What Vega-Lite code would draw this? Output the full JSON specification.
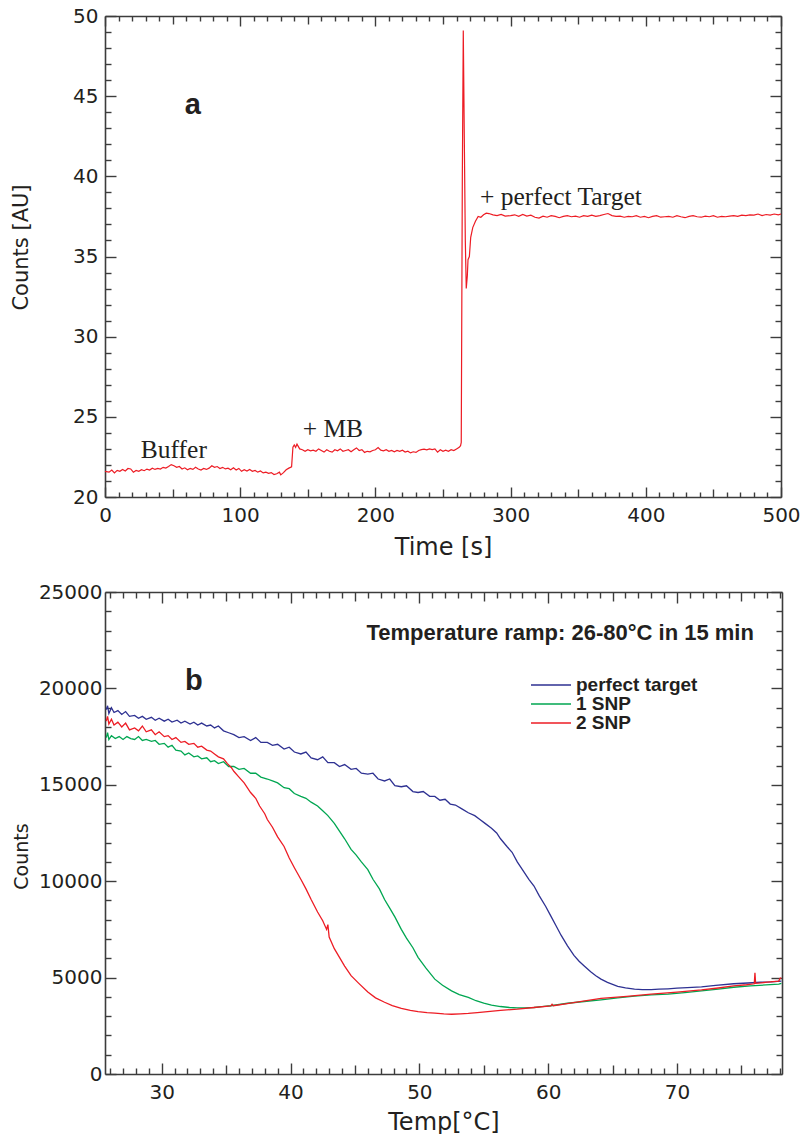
{
  "$schema": "https://vega.github.io/schema/vega-lite/v6.json",
  "background": "white",
  "padding": {"left": 10, "top": 6, "right": 0, "bottom": 0},
  "spacing": 23,
  "config": {
    "view": {"stroke": null},
    "axis": {
      "grid": false,
      "labelFont": "DejaVu Sans",
      "labelFontSize": 20,
      "labelColor": "#231f20",
      "titleFont": "DejaVu Sans",
      "titleFontWeight": "normal",
      "titleColor": "#231f20",
      "domainColor": "#3c3c3c",
      "domainWidth": 1.6,
      "tickColor": "#3c3c3c",
      "tickWidth": 1.4,
      "labelFlush": false,
      "labelOverlap": false,
      "labelBound": false
    }
  },
  "datasets": {
    "timeTrace": [
      {"time": 0, "counts": 21.6}, {"time": 3, "counts": 21.55}, {"time": 5, "counts": 21.68}, {"time": 7, "counts": 21.5}, {"time": 9, "counts": 21.66}, {"time": 11, "counts": 21.6}, {"time": 13, "counts": 21.72}, {"time": 15, "counts": 21.62}, {"time": 17, "counts": 21.78}, {"time": 19, "counts": 21.75}, {"time": 21, "counts": 21.55}, {"time": 23, "counts": 21.66}, {"time": 25, "counts": 21.6}, {"time": 27, "counts": 21.7}, {"time": 29, "counts": 21.64}, {"time": 31, "counts": 21.74}, {"time": 33, "counts": 21.68}, {"time": 35, "counts": 21.8}, {"time": 37, "counts": 21.72}, {"time": 39, "counts": 21.78}, {"time": 41, "counts": 21.74}, {"time": 43, "counts": 21.85}, {"time": 45, "counts": 21.8}, {"time": 47, "counts": 21.9}, {"time": 49, "counts": 22.02}, {"time": 51, "counts": 21.95}, {"time": 53, "counts": 21.85}, {"time": 55, "counts": 21.9}, {"time": 57, "counts": 21.75}, {"time": 59, "counts": 21.82}, {"time": 61, "counts": 21.7}, {"time": 63, "counts": 21.78}, {"time": 65, "counts": 21.72}, {"time": 67, "counts": 21.85}, {"time": 69, "counts": 21.75}, {"time": 71, "counts": 21.68}, {"time": 73, "counts": 21.78}, {"time": 75, "counts": 21.72}, {"time": 77, "counts": 21.8}, {"time": 79, "counts": 21.95}, {"time": 81, "counts": 21.85}, {"time": 83, "counts": 21.9}, {"time": 85, "counts": 21.78}, {"time": 87, "counts": 21.85}, {"time": 89, "counts": 21.75}, {"time": 91, "counts": 21.8}, {"time": 93, "counts": 21.7}, {"time": 95, "counts": 21.82}, {"time": 97, "counts": 21.68}, {"time": 99, "counts": 21.78}, {"time": 101, "counts": 21.6}, {"time": 103, "counts": 21.7}, {"time": 105, "counts": 21.62}, {"time": 107, "counts": 21.72}, {"time": 109, "counts": 21.6}, {"time": 111, "counts": 21.66}, {"time": 113, "counts": 21.55}, {"time": 115, "counts": 21.62}, {"time": 117, "counts": 21.5}, {"time": 119, "counts": 21.55}, {"time": 121, "counts": 21.48}, {"time": 123, "counts": 21.52}, {"time": 125, "counts": 21.4}, {"time": 127, "counts": 21.45}, {"time": 129, "counts": 21.55}, {"time": 130, "counts": 21.38}, {"time": 132, "counts": 21.52}, {"time": 134, "counts": 21.7}, {"time": 136, "counts": 21.8}, {"time": 138, "counts": 21.88}, {"time": 139, "counts": 23.1}, {"time": 140, "counts": 23.25}, {"time": 141, "counts": 23.1}, {"time": 142, "counts": 23.3}, {"time": 144, "counts": 23.0}, {"time": 146, "counts": 22.95}, {"time": 148, "counts": 22.85}, {"time": 150, "counts": 22.95}, {"time": 152, "counts": 22.88}, {"time": 154, "counts": 22.92}, {"time": 156, "counts": 22.85}, {"time": 158, "counts": 23.0}, {"time": 160, "counts": 22.9}, {"time": 162, "counts": 22.8}, {"time": 164, "counts": 22.95}, {"time": 166, "counts": 22.85}, {"time": 168, "counts": 22.8}, {"time": 170, "counts": 22.95}, {"time": 172, "counts": 22.88}, {"time": 174, "counts": 23.0}, {"time": 176, "counts": 22.85}, {"time": 178, "counts": 22.9}, {"time": 180, "counts": 22.95}, {"time": 182, "counts": 22.82}, {"time": 184, "counts": 22.95}, {"time": 186, "counts": 23.06}, {"time": 188, "counts": 22.9}, {"time": 190, "counts": 22.95}, {"time": 192, "counts": 22.78}, {"time": 194, "counts": 22.85}, {"time": 196, "counts": 22.82}, {"time": 198, "counts": 22.9}, {"time": 200, "counts": 22.95}, {"time": 202, "counts": 23.08}, {"time": 204, "counts": 22.92}, {"time": 206, "counts": 22.88}, {"time": 208, "counts": 22.95}, {"time": 210, "counts": 22.85}, {"time": 212, "counts": 22.9}, {"time": 214, "counts": 22.82}, {"time": 216, "counts": 22.9}, {"time": 218, "counts": 22.85}, {"time": 220, "counts": 22.92}, {"time": 222, "counts": 22.8}, {"time": 224, "counts": 22.86}, {"time": 226, "counts": 22.75}, {"time": 228, "counts": 22.82}, {"time": 230, "counts": 22.78}, {"time": 232, "counts": 22.9}, {"time": 234, "counts": 22.95}, {"time": 236, "counts": 22.98}, {"time": 238, "counts": 22.94}, {"time": 240, "counts": 23.0}, {"time": 242, "counts": 22.96}, {"time": 244, "counts": 23.0}, {"time": 246, "counts": 22.8}, {"time": 248, "counts": 22.95}, {"time": 250, "counts": 22.85}, {"time": 252, "counts": 22.92}, {"time": 254, "counts": 22.85}, {"time": 256, "counts": 22.95}, {"time": 258, "counts": 22.9}, {"time": 260, "counts": 23.0}, {"time": 262, "counts": 23.1}, {"time": 263, "counts": 23.2}, {"time": 263.5, "counts": 23.4}, {"time": 264.3, "counts": 40}, {"time": 265, "counts": 49.1}, {"time": 265.8, "counts": 42}, {"time": 266.5, "counts": 36}, {"time": 267.2, "counts": 33.0}, {"time": 268, "counts": 33.8}, {"time": 268.5, "counts": 34.8}, {"time": 269.5, "counts": 35.0}, {"time": 270.5, "counts": 36.2}, {"time": 272, "counts": 36.8}, {"time": 274, "counts": 37.2}, {"time": 276, "counts": 37.5}, {"time": 278, "counts": 37.45}, {"time": 280, "counts": 37.6}, {"time": 282, "counts": 37.7}, {"time": 284, "counts": 37.68}, {"time": 287, "counts": 37.6}, {"time": 290, "counts": 37.55}, {"time": 293, "counts": 37.62}, {"time": 296, "counts": 37.52}, {"time": 300, "counts": 37.55}, {"time": 303, "counts": 37.6}, {"time": 306, "counts": 37.5}, {"time": 309, "counts": 37.62}, {"time": 312, "counts": 37.52}, {"time": 315, "counts": 37.58}, {"time": 318, "counts": 37.45}, {"time": 321, "counts": 37.4}, {"time": 324, "counts": 37.52}, {"time": 327, "counts": 37.45}, {"time": 330, "counts": 37.55}, {"time": 333, "counts": 37.5}, {"time": 336, "counts": 37.42}, {"time": 339, "counts": 37.5}, {"time": 342, "counts": 37.55}, {"time": 345, "counts": 37.48}, {"time": 348, "counts": 37.52}, {"time": 351, "counts": 37.45}, {"time": 354, "counts": 37.55}, {"time": 357, "counts": 37.5}, {"time": 360, "counts": 37.58}, {"time": 363, "counts": 37.5}, {"time": 366, "counts": 37.55}, {"time": 369, "counts": 37.62}, {"time": 372, "counts": 37.68}, {"time": 375, "counts": 37.55}, {"time": 378, "counts": 37.5}, {"time": 381, "counts": 37.52}, {"time": 384, "counts": 37.45}, {"time": 387, "counts": 37.5}, {"time": 390, "counts": 37.48}, {"time": 393, "counts": 37.55}, {"time": 396, "counts": 37.45}, {"time": 399, "counts": 37.5}, {"time": 402, "counts": 37.42}, {"time": 405, "counts": 37.5}, {"time": 408, "counts": 37.55}, {"time": 411, "counts": 37.45}, {"time": 414, "counts": 37.48}, {"time": 417, "counts": 37.5}, {"time": 420, "counts": 37.45}, {"time": 423, "counts": 37.55}, {"time": 426, "counts": 37.48}, {"time": 429, "counts": 37.42}, {"time": 432, "counts": 37.5}, {"time": 435, "counts": 37.55}, {"time": 438, "counts": 37.48}, {"time": 441, "counts": 37.45}, {"time": 444, "counts": 37.52}, {"time": 447, "counts": 37.48}, {"time": 450, "counts": 37.55}, {"time": 453, "counts": 37.45}, {"time": 456, "counts": 37.5}, {"time": 459, "counts": 37.48}, {"time": 462, "counts": 37.52}, {"time": 465, "counts": 37.55}, {"time": 468, "counts": 37.5}, {"time": 471, "counts": 37.58}, {"time": 474, "counts": 37.55}, {"time": 477, "counts": 37.6}, {"time": 480, "counts": 37.58}, {"time": 483, "counts": 37.65}, {"time": 486, "counts": 37.55}, {"time": 489, "counts": 37.62}, {"time": 492, "counts": 37.58}, {"time": 495, "counts": 37.65}, {"time": 498, "counts": 37.6}, {"time": 500, "counts": 37.65}
    ],
    "melt": [
      {"temp": 25.7, "counts": 18900, "sample": "perfect target"}, {"temp": 25.8, "counts": 19100, "sample": "perfect target"}, {"temp": 25.9, "counts": 18700, "sample": "perfect target"}, {"temp": 26.1, "counts": 19000, "sample": "perfect target"}, {"temp": 26.3, "counts": 18750, "sample": "perfect target"}, {"temp": 26.6, "counts": 18850, "sample": "perfect target"}, {"temp": 26.9, "counts": 18650, "sample": "perfect target"}, {"temp": 27.2, "counts": 18800, "sample": "perfect target"}, {"temp": 27.5, "counts": 18550, "sample": "perfect target"}, {"temp": 27.9, "counts": 18600, "sample": "perfect target"}, {"temp": 28.2, "counts": 18450, "sample": "perfect target"}, {"temp": 28.5, "counts": 18550, "sample": "perfect target"}, {"temp": 28.8, "counts": 18400, "sample": "perfect target"}, {"temp": 29.2, "counts": 18500, "sample": "perfect target"}, {"temp": 29.5, "counts": 18350, "sample": "perfect target"}, {"temp": 29.8, "counts": 18450, "sample": "perfect target"}, {"temp": 30.2, "counts": 18300, "sample": "perfect target"}, {"temp": 30.5, "counts": 18400, "sample": "perfect target"}, {"temp": 30.8, "counts": 18250, "sample": "perfect target"}, {"temp": 31.2, "counts": 18350, "sample": "perfect target"}, {"temp": 31.5, "counts": 18200, "sample": "perfect target"}, {"temp": 31.8, "counts": 18300, "sample": "perfect target"}, {"temp": 32.2, "counts": 18150, "sample": "perfect target"}, {"temp": 32.5, "counts": 18250, "sample": "perfect target"}, {"temp": 32.8, "counts": 18100, "sample": "perfect target"}, {"temp": 33.1, "counts": 18200, "sample": "perfect target"}, {"temp": 33.5, "counts": 18050, "sample": "perfect target"}, {"temp": 33.8, "counts": 18100, "sample": "perfect target"}, {"temp": 34.1, "counts": 17950, "sample": "perfect target"}, {"temp": 34.4, "counts": 18050, "sample": "perfect target"}, {"temp": 34.8, "counts": 17800, "sample": "perfect target"}, {"temp": 35.2, "counts": 17700, "sample": "perfect target"}, {"temp": 35.6, "counts": 17600, "sample": "perfect target"}, {"temp": 36.0, "counts": 17450, "sample": "perfect target"}, {"temp": 36.4, "counts": 17500, "sample": "perfect target"}, {"temp": 36.9, "counts": 17300, "sample": "perfect target"}, {"temp": 37.3, "counts": 17450, "sample": "perfect target"}, {"temp": 37.7, "counts": 17200, "sample": "perfect target"}, {"temp": 38.2, "counts": 17200, "sample": "perfect target"}, {"temp": 38.6, "counts": 17050, "sample": "perfect target"}, {"temp": 39.0, "counts": 17100, "sample": "perfect target"}, {"temp": 39.5, "counts": 16850, "sample": "perfect target"}, {"temp": 39.9, "counts": 16950, "sample": "perfect target"}, {"temp": 40.3, "counts": 16700, "sample": "perfect target"}, {"temp": 40.8, "counts": 16600, "sample": "perfect target"}, {"temp": 41.2, "counts": 16700, "sample": "perfect target"}, {"temp": 41.6, "counts": 16400, "sample": "perfect target"}, {"temp": 42.1, "counts": 16300, "sample": "perfect target"}, {"temp": 42.5, "counts": 16450, "sample": "perfect target"}, {"temp": 42.9, "counts": 16150, "sample": "perfect target"}, {"temp": 43.4, "counts": 16150, "sample": "perfect target"}, {"temp": 43.8, "counts": 15950, "sample": "perfect target"}, {"temp": 44.2, "counts": 16050, "sample": "perfect target"}, {"temp": 44.7, "counts": 15800, "sample": "perfect target"}, {"temp": 45.1, "counts": 15850, "sample": "perfect target"}, {"temp": 45.5, "counts": 15600, "sample": "perfect target"}, {"temp": 46.0, "counts": 15550, "sample": "perfect target"}, {"temp": 46.4, "counts": 15600, "sample": "perfect target"}, {"temp": 46.8, "counts": 15300, "sample": "perfect target"}, {"temp": 47.3, "counts": 15200, "sample": "perfect target"}, {"temp": 47.7, "counts": 15300, "sample": "perfect target"}, {"temp": 48.1, "counts": 14950, "sample": "perfect target"}, {"temp": 48.6, "counts": 14900, "sample": "perfect target"}, {"temp": 49.0, "counts": 14950, "sample": "perfect target"}, {"temp": 49.5, "counts": 14650, "sample": "perfect target"}, {"temp": 49.9, "counts": 14600, "sample": "perfect target"}, {"temp": 50.3, "counts": 14650, "sample": "perfect target"}, {"temp": 50.8, "counts": 14400, "sample": "perfect target"}, {"temp": 51.2, "counts": 14400, "sample": "perfect target"}, {"temp": 51.6, "counts": 14200, "sample": "perfect target"}, {"temp": 52.0, "counts": 14250, "sample": "perfect target"}, {"temp": 52.4, "counts": 14000, "sample": "perfect target"}, {"temp": 52.8, "counts": 13950, "sample": "perfect target"}, {"temp": 53.3, "counts": 13750, "sample": "perfect target"}, {"temp": 53.8, "counts": 13550, "sample": "perfect target"}, {"temp": 54.3, "counts": 13400, "sample": "perfect target"}, {"temp": 54.7, "counts": 13200, "sample": "perfect target"}, {"temp": 55.1, "counts": 13000, "sample": "perfect target"}, {"temp": 55.6, "counts": 12750, "sample": "perfect target"}, {"temp": 56.0, "counts": 12500, "sample": "perfect target"}, {"temp": 56.3, "counts": 12200, "sample": "perfect target"}, {"temp": 56.8, "counts": 11800, "sample": "perfect target"}, {"temp": 57.2, "counts": 11500, "sample": "perfect target"}, {"temp": 57.6, "counts": 11000, "sample": "perfect target"}, {"temp": 58.0, "counts": 10600, "sample": "perfect target"}, {"temp": 58.5, "counts": 10100, "sample": "perfect target"}, {"temp": 58.9, "counts": 9750, "sample": "perfect target"}, {"temp": 59.3, "counts": 9250, "sample": "perfect target"}, {"temp": 59.8, "counts": 8700, "sample": "perfect target"}, {"temp": 60.2, "counts": 8200, "sample": "perfect target"}, {"temp": 60.6, "counts": 7700, "sample": "perfect target"}, {"temp": 61.0, "counts": 7200, "sample": "perfect target"}, {"temp": 61.5, "counts": 6650, "sample": "perfect target"}, {"temp": 62.0, "counts": 6150, "sample": "perfect target"}, {"temp": 62.4, "counts": 5850, "sample": "perfect target"}, {"temp": 62.8, "counts": 5600, "sample": "perfect target"}, {"temp": 63.3, "counts": 5300, "sample": "perfect target"}, {"temp": 63.7, "counts": 5100, "sample": "perfect target"}, {"temp": 64.1, "counts": 4920, "sample": "perfect target"}, {"temp": 64.6, "counts": 4750, "sample": "perfect target"}, {"temp": 65.0, "counts": 4650, "sample": "perfect target"}, {"temp": 65.4, "counts": 4550, "sample": "perfect target"}, {"temp": 66.0, "counts": 4470, "sample": "perfect target"}, {"temp": 66.7, "counts": 4400, "sample": "perfect target"}, {"temp": 67.3, "counts": 4380, "sample": "perfect target"}, {"temp": 68.0, "counts": 4380, "sample": "perfect target"}, {"temp": 68.6, "counts": 4400, "sample": "perfect target"}, {"temp": 69.3, "counts": 4420, "sample": "perfect target"}, {"temp": 70.0, "counts": 4450, "sample": "perfect target"}, {"temp": 70.8, "counts": 4480, "sample": "perfect target"}, {"temp": 71.9, "counts": 4520, "sample": "perfect target"}, {"temp": 73.0, "counts": 4600, "sample": "perfect target"}, {"temp": 74.4, "counts": 4680, "sample": "perfect target"}, {"temp": 75.5, "counts": 4720, "sample": "perfect target"}, {"temp": 76.5, "counts": 4760, "sample": "perfect target"}, {"temp": 77.3, "counts": 4780, "sample": "perfect target"}, {"temp": 78.1, "counts": 4820, "sample": "perfect target"},
      {"temp": 25.7, "counts": 17450, "sample": "1 SNP"}, {"temp": 25.8, "counts": 17700, "sample": "1 SNP"}, {"temp": 25.9, "counts": 17350, "sample": "1 SNP"}, {"temp": 26.1, "counts": 17550, "sample": "1 SNP"}, {"temp": 26.4, "counts": 17400, "sample": "1 SNP"}, {"temp": 26.7, "counts": 17500, "sample": "1 SNP"}, {"temp": 27.0, "counts": 17350, "sample": "1 SNP"}, {"temp": 27.3, "counts": 17500, "sample": "1 SNP"}, {"temp": 27.6, "counts": 17400, "sample": "1 SNP"}, {"temp": 27.9, "counts": 17350, "sample": "1 SNP"}, {"temp": 28.2, "counts": 17500, "sample": "1 SNP"}, {"temp": 28.5, "counts": 17300, "sample": "1 SNP"}, {"temp": 28.8, "counts": 17350, "sample": "1 SNP"}, {"temp": 29.2, "counts": 17250, "sample": "1 SNP"}, {"temp": 29.5, "counts": 17300, "sample": "1 SNP"}, {"temp": 29.8, "counts": 17100, "sample": "1 SNP"}, {"temp": 30.2, "counts": 17150, "sample": "1 SNP"}, {"temp": 30.5, "counts": 16950, "sample": "1 SNP"}, {"temp": 30.8, "counts": 17050, "sample": "1 SNP"}, {"temp": 31.1, "counts": 16800, "sample": "1 SNP"}, {"temp": 31.5, "counts": 16750, "sample": "1 SNP"}, {"temp": 31.8, "counts": 16550, "sample": "1 SNP"}, {"temp": 32.1, "counts": 16650, "sample": "1 SNP"}, {"temp": 32.5, "counts": 16450, "sample": "1 SNP"}, {"temp": 32.8, "counts": 16500, "sample": "1 SNP"}, {"temp": 33.1, "counts": 16350, "sample": "1 SNP"}, {"temp": 33.5, "counts": 16400, "sample": "1 SNP"}, {"temp": 33.8, "counts": 16200, "sample": "1 SNP"}, {"temp": 34.1, "counts": 16250, "sample": "1 SNP"}, {"temp": 34.4, "counts": 16100, "sample": "1 SNP"}, {"temp": 34.8, "counts": 16200, "sample": "1 SNP"}, {"temp": 35.2, "counts": 15950, "sample": "1 SNP"}, {"temp": 35.6, "counts": 15950, "sample": "1 SNP"}, {"temp": 36.0, "counts": 15800, "sample": "1 SNP"}, {"temp": 36.4, "counts": 15850, "sample": "1 SNP"}, {"temp": 36.9, "counts": 15600, "sample": "1 SNP"}, {"temp": 37.3, "counts": 15600, "sample": "1 SNP"}, {"temp": 37.7, "counts": 15400, "sample": "1 SNP"}, {"temp": 38.2, "counts": 15300, "sample": "1 SNP"}, {"temp": 38.6, "counts": 15200, "sample": "1 SNP"}, {"temp": 39.0, "counts": 15100, "sample": "1 SNP"}, {"temp": 39.5, "counts": 14850, "sample": "1 SNP"}, {"temp": 39.9, "counts": 14800, "sample": "1 SNP"}, {"temp": 40.3, "counts": 14550, "sample": "1 SNP"}, {"temp": 40.8, "counts": 14400, "sample": "1 SNP"}, {"temp": 41.2, "counts": 14300, "sample": "1 SNP"}, {"temp": 41.6, "counts": 14100, "sample": "1 SNP"}, {"temp": 42.1, "counts": 13900, "sample": "1 SNP"}, {"temp": 42.5, "counts": 13650, "sample": "1 SNP"}, {"temp": 42.9, "counts": 13400, "sample": "1 SNP"}, {"temp": 43.4, "counts": 13000, "sample": "1 SNP"}, {"temp": 43.8, "counts": 12600, "sample": "1 SNP"}, {"temp": 44.2, "counts": 12200, "sample": "1 SNP"}, {"temp": 44.7, "counts": 11650, "sample": "1 SNP"}, {"temp": 45.1, "counts": 11350, "sample": "1 SNP"}, {"temp": 45.5, "counts": 11000, "sample": "1 SNP"}, {"temp": 46.0, "counts": 10600, "sample": "1 SNP"}, {"temp": 46.4, "counts": 10100, "sample": "1 SNP"}, {"temp": 46.9, "counts": 9600, "sample": "1 SNP"}, {"temp": 47.3, "counts": 9050, "sample": "1 SNP"}, {"temp": 47.7, "counts": 8600, "sample": "1 SNP"}, {"temp": 48.1, "counts": 8150, "sample": "1 SNP"}, {"temp": 48.6, "counts": 7500, "sample": "1 SNP"}, {"temp": 49.0, "counts": 7050, "sample": "1 SNP"}, {"temp": 49.5, "counts": 6550, "sample": "1 SNP"}, {"temp": 49.9, "counts": 6050, "sample": "1 SNP"}, {"temp": 50.5, "counts": 5500, "sample": "1 SNP"}, {"temp": 51.2, "counts": 4920, "sample": "1 SNP"}, {"temp": 51.8, "counts": 4600, "sample": "1 SNP"}, {"temp": 52.5, "counts": 4310, "sample": "1 SNP"}, {"temp": 53.1, "counts": 4120, "sample": "1 SNP"}, {"temp": 53.8, "counts": 3970, "sample": "1 SNP"}, {"temp": 54.4, "counts": 3800, "sample": "1 SNP"}, {"temp": 55.0, "counts": 3670, "sample": "1 SNP"}, {"temp": 55.6, "counts": 3570, "sample": "1 SNP"}, {"temp": 56.3, "counts": 3500, "sample": "1 SNP"}, {"temp": 57.0, "counts": 3450, "sample": "1 SNP"}, {"temp": 57.6, "counts": 3430, "sample": "1 SNP"}, {"temp": 58.2, "counts": 3430, "sample": "1 SNP"}, {"temp": 58.9, "counts": 3450, "sample": "1 SNP"}, {"temp": 59.5, "counts": 3490, "sample": "1 SNP"}, {"temp": 60.2, "counts": 3540, "sample": "1 SNP"}, {"temp": 61.5, "counts": 3670, "sample": "1 SNP"}, {"temp": 62.8, "counts": 3760, "sample": "1 SNP"}, {"temp": 64.1, "counts": 3850, "sample": "1 SNP"}, {"temp": 65.4, "counts": 3950, "sample": "1 SNP"}, {"temp": 66.7, "counts": 4040, "sample": "1 SNP"}, {"temp": 68.0, "counts": 4100, "sample": "1 SNP"}, {"temp": 69.3, "counts": 4140, "sample": "1 SNP"}, {"temp": 70.6, "counts": 4220, "sample": "1 SNP"}, {"temp": 71.9, "counts": 4310, "sample": "1 SNP"}, {"temp": 73.2, "counts": 4400, "sample": "1 SNP"}, {"temp": 74.4, "counts": 4500, "sample": "1 SNP"}, {"temp": 75.7, "counts": 4570, "sample": "1 SNP"}, {"temp": 76.9, "counts": 4620, "sample": "1 SNP"}, {"temp": 77.9, "counts": 4660, "sample": "1 SNP"}, {"temp": 78.1, "counts": 4700, "sample": "1 SNP"},
      {"temp": 25.7, "counts": 18300, "sample": "2 SNP"}, {"temp": 25.8, "counts": 18550, "sample": "2 SNP"}, {"temp": 25.9, "counts": 18150, "sample": "2 SNP"}, {"temp": 26.1, "counts": 18400, "sample": "2 SNP"}, {"temp": 26.3, "counts": 18100, "sample": "2 SNP"}, {"temp": 26.6, "counts": 18250, "sample": "2 SNP"}, {"temp": 26.9, "counts": 18000, "sample": "2 SNP"}, {"temp": 27.2, "counts": 18200, "sample": "2 SNP"}, {"temp": 27.5, "counts": 17850, "sample": "2 SNP"}, {"temp": 27.9, "counts": 17950, "sample": "2 SNP"}, {"temp": 28.2, "counts": 17800, "sample": "2 SNP"}, {"temp": 28.5, "counts": 18050, "sample": "2 SNP"}, {"temp": 28.8, "counts": 17750, "sample": "2 SNP"}, {"temp": 29.2, "counts": 17850, "sample": "2 SNP"}, {"temp": 29.5, "counts": 17600, "sample": "2 SNP"}, {"temp": 29.8, "counts": 17750, "sample": "2 SNP"}, {"temp": 30.2, "counts": 17500, "sample": "2 SNP"}, {"temp": 30.5, "counts": 17550, "sample": "2 SNP"}, {"temp": 30.8, "counts": 17350, "sample": "2 SNP"}, {"temp": 31.1, "counts": 17450, "sample": "2 SNP"}, {"temp": 31.5, "counts": 17200, "sample": "2 SNP"}, {"temp": 31.8, "counts": 17250, "sample": "2 SNP"}, {"temp": 32.1, "counts": 17100, "sample": "2 SNP"}, {"temp": 32.5, "counts": 17150, "sample": "2 SNP"}, {"temp": 32.8, "counts": 16950, "sample": "2 SNP"}, {"temp": 33.1, "counts": 17000, "sample": "2 SNP"}, {"temp": 33.5, "counts": 16800, "sample": "2 SNP"}, {"temp": 33.8, "counts": 16750, "sample": "2 SNP"}, {"temp": 34.1, "counts": 16600, "sample": "2 SNP"}, {"temp": 34.4, "counts": 16450, "sample": "2 SNP"}, {"temp": 34.8, "counts": 16350, "sample": "2 SNP"}, {"temp": 35.1, "counts": 16100, "sample": "2 SNP"}, {"temp": 35.4, "counts": 15900, "sample": "2 SNP"}, {"temp": 35.6, "counts": 15700, "sample": "2 SNP"}, {"temp": 36.0, "counts": 15400, "sample": "2 SNP"}, {"temp": 36.4, "counts": 15100, "sample": "2 SNP"}, {"temp": 36.9, "counts": 14600, "sample": "2 SNP"}, {"temp": 37.3, "counts": 14300, "sample": "2 SNP"}, {"temp": 37.6, "counts": 13900, "sample": "2 SNP"}, {"temp": 38.0, "counts": 13500, "sample": "2 SNP"}, {"temp": 38.2, "counts": 13200, "sample": "2 SNP"}, {"temp": 38.6, "counts": 12800, "sample": "2 SNP"}, {"temp": 39.0, "counts": 12300, "sample": "2 SNP"}, {"temp": 39.5, "counts": 11800, "sample": "2 SNP"}, {"temp": 39.9, "counts": 11200, "sample": "2 SNP"}, {"temp": 40.3, "counts": 10700, "sample": "2 SNP"}, {"temp": 40.8, "counts": 10100, "sample": "2 SNP"}, {"temp": 41.2, "counts": 9600, "sample": "2 SNP"}, {"temp": 41.6, "counts": 9050, "sample": "2 SNP"}, {"temp": 42.1, "counts": 8400, "sample": "2 SNP"}, {"temp": 42.5, "counts": 7950, "sample": "2 SNP"}, {"temp": 42.8, "counts": 7500, "sample": "2 SNP"}, {"temp": 42.9, "counts": 7750, "sample": "2 SNP"}, {"temp": 43.0, "counts": 7100, "sample": "2 SNP"}, {"temp": 43.4, "counts": 6500, "sample": "2 SNP"}, {"temp": 43.8, "counts": 6050, "sample": "2 SNP"}, {"temp": 44.2, "counts": 5600, "sample": "2 SNP"}, {"temp": 44.7, "counts": 5100, "sample": "2 SNP"}, {"temp": 45.3, "counts": 4700, "sample": "2 SNP"}, {"temp": 46.0, "counts": 4250, "sample": "2 SNP"}, {"temp": 46.6, "counts": 3950, "sample": "2 SNP"}, {"temp": 47.3, "counts": 3720, "sample": "2 SNP"}, {"temp": 47.9, "counts": 3550, "sample": "2 SNP"}, {"temp": 48.6, "counts": 3400, "sample": "2 SNP"}, {"temp": 49.3, "counts": 3300, "sample": "2 SNP"}, {"temp": 49.9, "counts": 3230, "sample": "2 SNP"}, {"temp": 50.6, "counts": 3180, "sample": "2 SNP"}, {"temp": 51.2, "counts": 3160, "sample": "2 SNP"}, {"temp": 51.9, "counts": 3120, "sample": "2 SNP"}, {"temp": 52.5, "counts": 3100, "sample": "2 SNP"}, {"temp": 53.2, "counts": 3120, "sample": "2 SNP"}, {"temp": 53.8, "counts": 3140, "sample": "2 SNP"}, {"temp": 54.5, "counts": 3180, "sample": "2 SNP"}, {"temp": 55.1, "counts": 3220, "sample": "2 SNP"}, {"temp": 56.3, "counts": 3300, "sample": "2 SNP"}, {"temp": 57.6, "counts": 3360, "sample": "2 SNP"}, {"temp": 58.9, "counts": 3450, "sample": "2 SNP"}, {"temp": 60.2, "counts": 3530, "sample": "2 SNP"}, {"temp": 60.3, "counts": 3620, "sample": "2 SNP"}, {"temp": 60.4, "counts": 3540, "sample": "2 SNP"}, {"temp": 62.1, "counts": 3720, "sample": "2 SNP"}, {"temp": 64.1, "counts": 3920, "sample": "2 SNP"}, {"temp": 66.1, "counts": 4030, "sample": "2 SNP"}, {"temp": 68.0, "counts": 4140, "sample": "2 SNP"}, {"temp": 70.0, "counts": 4250, "sample": "2 SNP"}, {"temp": 71.9, "counts": 4360, "sample": "2 SNP"}, {"temp": 73.2, "counts": 4460, "sample": "2 SNP"}, {"temp": 74.4, "counts": 4570, "sample": "2 SNP"}, {"temp": 75.4, "counts": 4630, "sample": "2 SNP"}, {"temp": 76.0, "counts": 4680, "sample": "2 SNP"}, {"temp": 76.05, "counts": 5250, "sample": "2 SNP"}, {"temp": 76.1, "counts": 4700, "sample": "2 SNP"}, {"temp": 77.0, "counts": 4760, "sample": "2 SNP"}, {"temp": 77.9, "counts": 4820, "sample": "2 SNP"}, {"temp": 78.0, "counts": 4960, "sample": "2 SNP"}, {"temp": 78.1, "counts": 4980, "sample": "2 SNP"}
    ]
  },
  "vconcat": [
    {
      "width": 676,
      "height": 481,
      "layer": [
        {
          "data": {"name": "timeTrace"},
          "mark": {"type": "line", "color": "#ed1c24", "strokeWidth": 1.2},
          "encoding": {
            "x": {"field": "time", "type": "quantitative", "scale": {"domain": [0, 500], "nice": false, "zero": false},
              "axis": {"orient": "bottom", "title": "Time [s]", "titleFontSize": 24, "titlePadding": 5,
                "values": [0,10,20,30,40,50,60,70,80,90,100,110,120,130,140,150,160,170,180,190,200,210,220,230,240,250,260,270,280,290,300,310,320,330,340,350,360,370,380,390,400,410,420,430,440,450,460,470,480,490,500],
                "labelExpr": "datum.value % 100 === 0 ? datum.label : ''",
                "tickSize": {"expr": "datum.value % 100 === 0 ? -10 : (datum.value % 50 === 0 ? -8 : -5)"},
                "labelPadding": 18}},
            "y": {"field": "counts", "type": "quantitative", "scale": {"domain": [20, 50], "nice": false, "zero": false},
              "axis": {"orient": "left", "title": "Counts [AU]", "titleFontSize": 21, "titlePadding": 41, "titleY": 231,
                "values": [20,21,22,23,24,25,26,27,28,29,30,31,32,33,34,35,36,37,38,39,40,41,42,43,44,45,46,47,48,49,50],
                "labelExpr": "datum.value % 5 === 0 ? datum.label : ''",
                "tickSize": {"expr": "datum.value % 5 === 0 ? -11 : -6"},
                "labelPadding": 18}}
          }
        },
        {
          "data": {"name": "timeTrace"},
          "mark": {"type": "line", "opacity": 0},
          "encoding": {
            "x": {"field": "time", "type": "quantitative",
              "axis": {"orient": "top", "title": null, "labels": false,
                "values": [0,10,20,30,40,50,60,70,80,90,100,110,120,130,140,150,160,170,180,190,200,210,220,230,240,250,260,270,280,290,300,310,320,330,340,350,360,370,380,390,400,410,420,430,440,450,460,470,480,490,500],
                "tickSize": {"expr": "datum.value % 100 === 0 ? -10 : (datum.value % 50 === 0 ? -8 : -5)"}}},
            "y": {"field": "counts", "type": "quantitative",
              "axis": {"orient": "right", "title": null, "labels": false,
                "values": [20,21,22,23,24,25,26,27,28,29,30,31,32,33,34,35,36,37,38,39,40,41,42,43,44,45,46,47,48,49,50],
                "tickSize": {"expr": "datum.value % 5 === 0 ? -11 : -6"}}}
          }
        },
        {
          "data": {"values": [{}]},
          "mark": {"type": "text", "font": "Liberation Sans", "fontWeight": "bold", "fontSize": 29, "align": "center", "baseline": "alphabetic", "color": "#231f20"},
          "encoding": {"x": {"datum": 65, "type": "quantitative", "axis": null}, "y": {"datum": 43.9, "type": "quantitative", "axis": null}, "text": {"value": "a"}}
        },
        {
          "data": {"values": [{}]},
          "mark": {"type": "text", "font": "Liberation Serif", "fontSize": 25.5, "align": "left", "baseline": "alphabetic", "color": "#231f20"},
          "encoding": {"x": {"datum": 26.5, "type": "quantitative", "axis": null}, "y": {"datum": 22.43, "type": "quantitative", "axis": null}, "text": {"value": "Buffer"}}
        },
        {
          "data": {"values": [{}]},
          "mark": {"type": "text", "font": "Liberation Serif", "fontSize": 25.5, "align": "left", "baseline": "alphabetic", "color": "#231f20"},
          "encoding": {"x": {"datum": 146.2, "type": "quantitative", "axis": null}, "y": {"datum": 23.74, "type": "quantitative", "axis": null}, "text": {"value": "+ MB"}}
        },
        {
          "data": {"values": [{}]},
          "mark": {"type": "text", "font": "Liberation Serif", "fontSize": 25.5, "align": "left", "baseline": "alphabetic", "color": "#231f20"},
          "encoding": {"x": {"datum": 277.4, "type": "quantitative", "axis": null}, "y": {"datum": 38.2, "type": "quantitative", "axis": null}, "text": {"value": "+ perfect Target"}}
        }
      ],
      "resolve": {"axis": {"x": "independent", "y": "independent"}}
    },
    {
      "width": 677,
      "height": 482,
      "layer": [
        {
          "data": {"name": "melt"},
          "mark": {"type": "line", "strokeWidth": 1.3},
          "encoding": {
            "x": {"field": "temp", "type": "quantitative", "scale": {"domain": [25.6, 78.15], "nice": false, "zero": false},
              "axis": {"orient": "bottom", "title": "Temp[°C]", "titleFontSize": 24, "titlePadding": 3,
                "values": [26,27,28,29,30,31,32,33,34,35,36,37,38,39,40,41,42,43,44,45,46,47,48,49,50,51,52,53,54,55,56,57,58,59,60,61,62,63,64,65,66,67,68,69,70,71,72,73,74,75,76,77,78],
                "labelExpr": "datum.value % 10 === 0 ? datum.label : ''",
                "tickSize": {"expr": "datum.value % 10 === 0 ? -11 : (datum.value % 5 === 0 ? -9 : -6)"},
                "labelPadding": 19}},
            "y": {"field": "counts", "type": "quantitative", "scale": {"domain": [0, 25000], "nice": false, "zero": false},
              "axis": {"orient": "left", "title": "Counts", "titleFontSize": 19, "titlePadding": 7, "titleY": 264, "format": "d",
                "values": [0,1000,2000,3000,4000,5000,6000,7000,8000,9000,10000,11000,12000,13000,14000,15000,16000,17000,18000,19000,20000,21000,22000,23000,24000,25000],
                "labelExpr": "datum.value % 5000 === 0 ? datum.label : ''",
                "tickSize": {"expr": "datum.value % 5000 === 0 ? -11 : -6"},
                "labelPadding": 14}},
            "color": {"field": "sample", "type": "nominal",
              "scale": {"domain": ["perfect target", "1 SNP", "2 SNP"], "range": ["#2e3192", "#00a651", "#ed1c24"]},
              "legend": {"orient": "none", "legendX": 425, "legendY": 661, "title": null, "symbolType": "stroke", "symbolSize": 1600, "symbolStrokeWidth": 1.5, "labelFont": "Liberation Sans", "labelFontWeight": "bold", "labelFontSize": 19, "labelColor": "#231f20", "clipHeight": 16, "rowPadding": 0, "labelOffset": 4, "padding": 0}}
          }
        },
        {
          "data": {"name": "melt"},
          "mark": {"type": "line", "opacity": 0},
          "encoding": {
            "x": {"field": "temp", "type": "quantitative",
              "axis": {"orient": "top", "title": null, "labels": false,
                "values": [26,27,28,29,30,31,32,33,34,35,36,37,38,39,40,41,42,43,44,45,46,47,48,49,50,51,52,53,54,55,56,57,58,59,60,61,62,63,64,65,66,67,68,69,70,71,72,73,74,75,76,77,78],
                "tickSize": {"expr": "datum.value % 10 === 0 ? -11 : (datum.value % 5 === 0 ? -9 : -6)"}}},
            "y": {"field": "counts", "type": "quantitative",
              "axis": {"orient": "right", "title": null, "labels": false,
                "values": [0,1000,2000,3000,4000,5000,6000,7000,8000,9000,10000,11000,12000,13000,14000,15000,16000,17000,18000,19000,20000,21000,22000,23000,24000,25000],
                "tickSize": {"expr": "datum.value % 5000 === 0 ? -11 : -6"}}}
          }
        },
        {
          "data": {"values": [{}]},
          "mark": {"type": "text", "font": "Liberation Sans", "fontWeight": "bold", "fontSize": 29, "align": "center", "baseline": "alphabetic", "color": "#231f20"},
          "encoding": {"x": {"datum": 32.5, "type": "quantitative", "axis": null}, "y": {"datum": 19930, "type": "quantitative", "axis": null}, "text": {"value": "b"}}
        },
        {
          "data": {"values": [{}]},
          "mark": {"type": "text", "font": "Liberation Sans", "fontWeight": "bold", "fontSize": 22, "align": "right", "baseline": "alphabetic", "color": "#231f20"},
          "encoding": {"x": {"datum": 75.97, "type": "quantitative", "axis": null}, "y": {"datum": 22500, "type": "quantitative", "axis": null}, "text": {"value": "Temperature ramp: 26-80°C in 15 min"}}
        }
      ],
      "resolve": {"axis": {"x": "independent", "y": "independent"}}
    }
  ]
}
